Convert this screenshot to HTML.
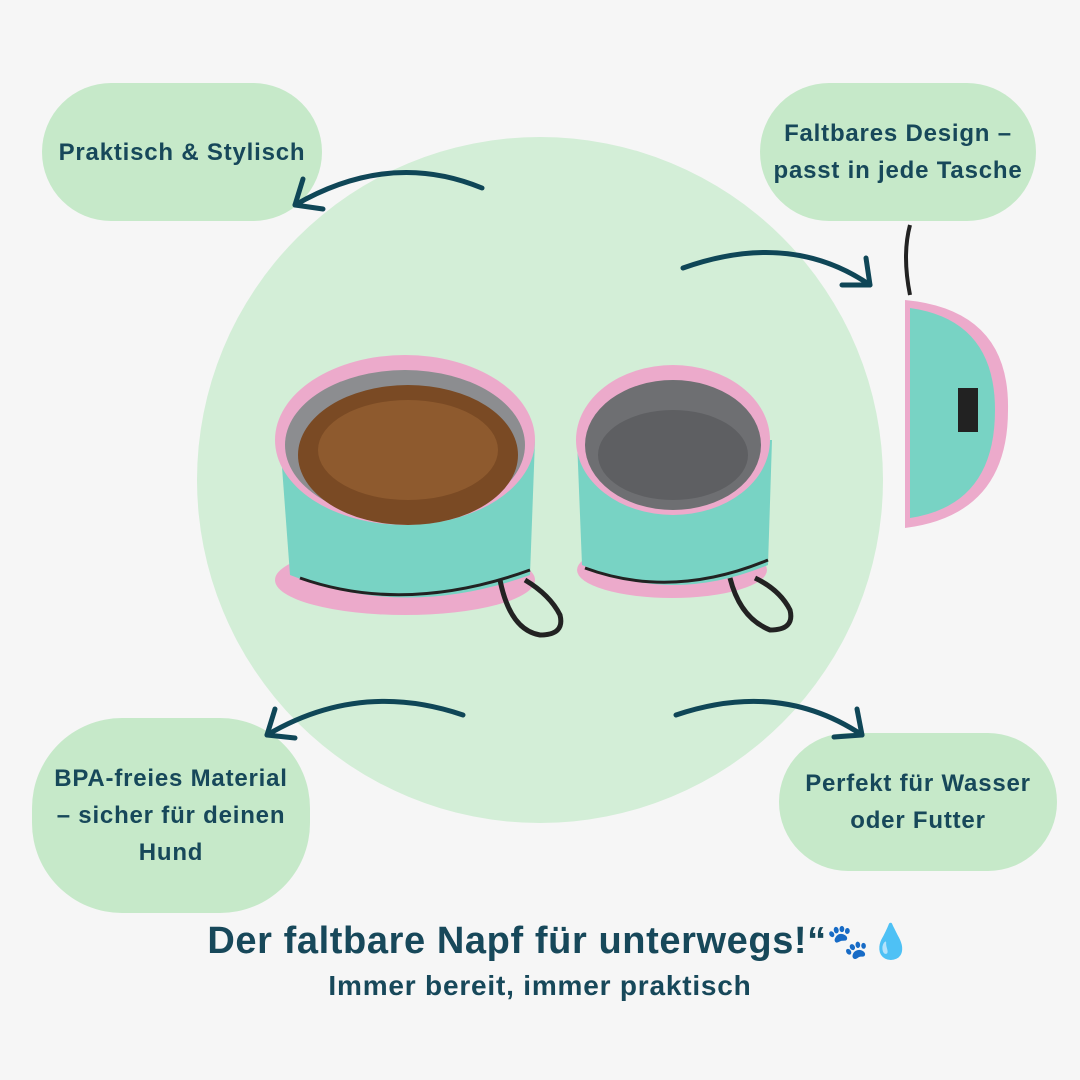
<!DOCTYPE html>
<html><head><meta charset="utf-8"><style>
body{margin:0;width:1080px;height:1080px;background:#f6f6f6;position:relative;overflow:hidden;font-family:"Liberation Sans","DejaVu Sans",sans-serif;}
.c{position:absolute;border-radius:50%;background:#d3eed7;left:197px;top:137px;width:686px;height:686px;}
.p{position:absolute;background:#c6e9c9;border-radius:70px;display:flex;align-items:center;justify-content:center;text-align:center;color:#17485a;font-weight:bold;font-size:24px;letter-spacing:0.8px;line-height:37px;white-space:nowrap;}
.t{position:absolute;left:0;width:1080px;text-align:center;color:#17485a;font-weight:bold;}
svg{position:absolute;left:0;top:0;}
</style></head><body>
<div class="c"></div>
<div class="p" style="left:42px;top:83px;width:280px;height:138px;">Praktisch &amp; Stylisch</div>
<div class="p" style="left:760px;top:83px;width:276px;height:138px;">Faltbares Design –<br>passt in jede Tasche</div>
<div class="p" style="left:32px;top:718px;width:278px;height:195px;border-radius:90px;">BPA-freies Material<br>– sicher für deinen<br>Hund</div>
<div class="p" style="left:779px;top:733px;width:278px;height:138px;">Perfekt für Wasser<br>oder Futter</div>
<svg width="1080" height="1080">
<g fill="none" stroke="#0f4657" stroke-width="5" stroke-linecap="round">
<path d="M482 188 Q390 150 295 205"/><path d="M295 205 l8 -26 M295 205 l28 4"/>
<path d="M683 268 Q790 230 870 285"/><path d="M870 285 l-4 -27 M870 285 l-28 0"/>
<path d="M463 715 Q360 680 267 735"/><path d="M267 735 l8 -26 M267 735 l28 3"/>
<path d="M676 715 Q780 680 862 735"/><path d="M862 735 l-5 -26 M862 735 l-28 2"/>
</g>
<ellipse cx="405" cy="580" rx="130" ry="35" fill="#ecaacb"/>
<path d="M280 440 L290 575 Q405 620 530 575 L535 440 Z" fill="#78d3c4"/>
<path d="M300 578 Q405 615 530 570" stroke="#222" stroke-width="3" fill="none"/>
<ellipse cx="405" cy="440" rx="130" ry="85" fill="#ecaacb"/>
<ellipse cx="405" cy="445" rx="120" ry="75" fill="#8c8d90"/>
<ellipse cx="408" cy="455" rx="110" ry="70" fill="#7a4a24"/>
<ellipse cx="408" cy="450" rx="90" ry="50" fill="#8e5a2e"/>
<path d="M500 580 q10 50 40 55 q25 0 20 -20 q-10 -20 -35 -35" stroke="#222" stroke-width="5" fill="none"/>
<ellipse cx="672" cy="570" rx="95" ry="28" fill="#ecaacb"/>
<path d="M577 440 L582 565 Q672 605 768 565 L772 440 Z" fill="#78d3c4"/>
<path d="M585 568 Q672 600 768 560" stroke="#222" stroke-width="3" fill="none"/>
<ellipse cx="673" cy="440" rx="97" ry="75" fill="#ecaacb"/>
<ellipse cx="673" cy="445" rx="88" ry="65" fill="#6e6f72"/>
<ellipse cx="673" cy="455" rx="75" ry="45" fill="#5e5f62"/>
<path d="M730 578 q10 40 40 52 q25 0 20 -20 q-10 -20 -35 -32" stroke="#222" stroke-width="5" fill="none"/>
<path d="M910 225 q-8 30 0 70" stroke="#222" stroke-width="4" fill="none"/>
<path d="M905 300 Q1010 310 1008 410 Q1008 515 905 528 Z" fill="#ecaacb"/>
<path d="M910 308 Q995 320 995 410 Q995 505 910 518 Z" fill="#78d3c4"/>
<rect x="958" y="388" width="20" height="44" fill="#222"/>
</svg>
<div class="t" style="top:920px;font-size:38px;letter-spacing:0.6px;padding-left:40px;box-sizing:border-box;">Der faltbare Napf für unterwegs!“<span style="color:#7a2a10;font-size:34px">🐾</span><span style="color:#3a9ae0;font-size:34px">💧</span></div>
<div class="t" style="top:970px;font-size:28px;letter-spacing:0.8px;">Immer bereit, immer praktisch</div>
</body></html>
